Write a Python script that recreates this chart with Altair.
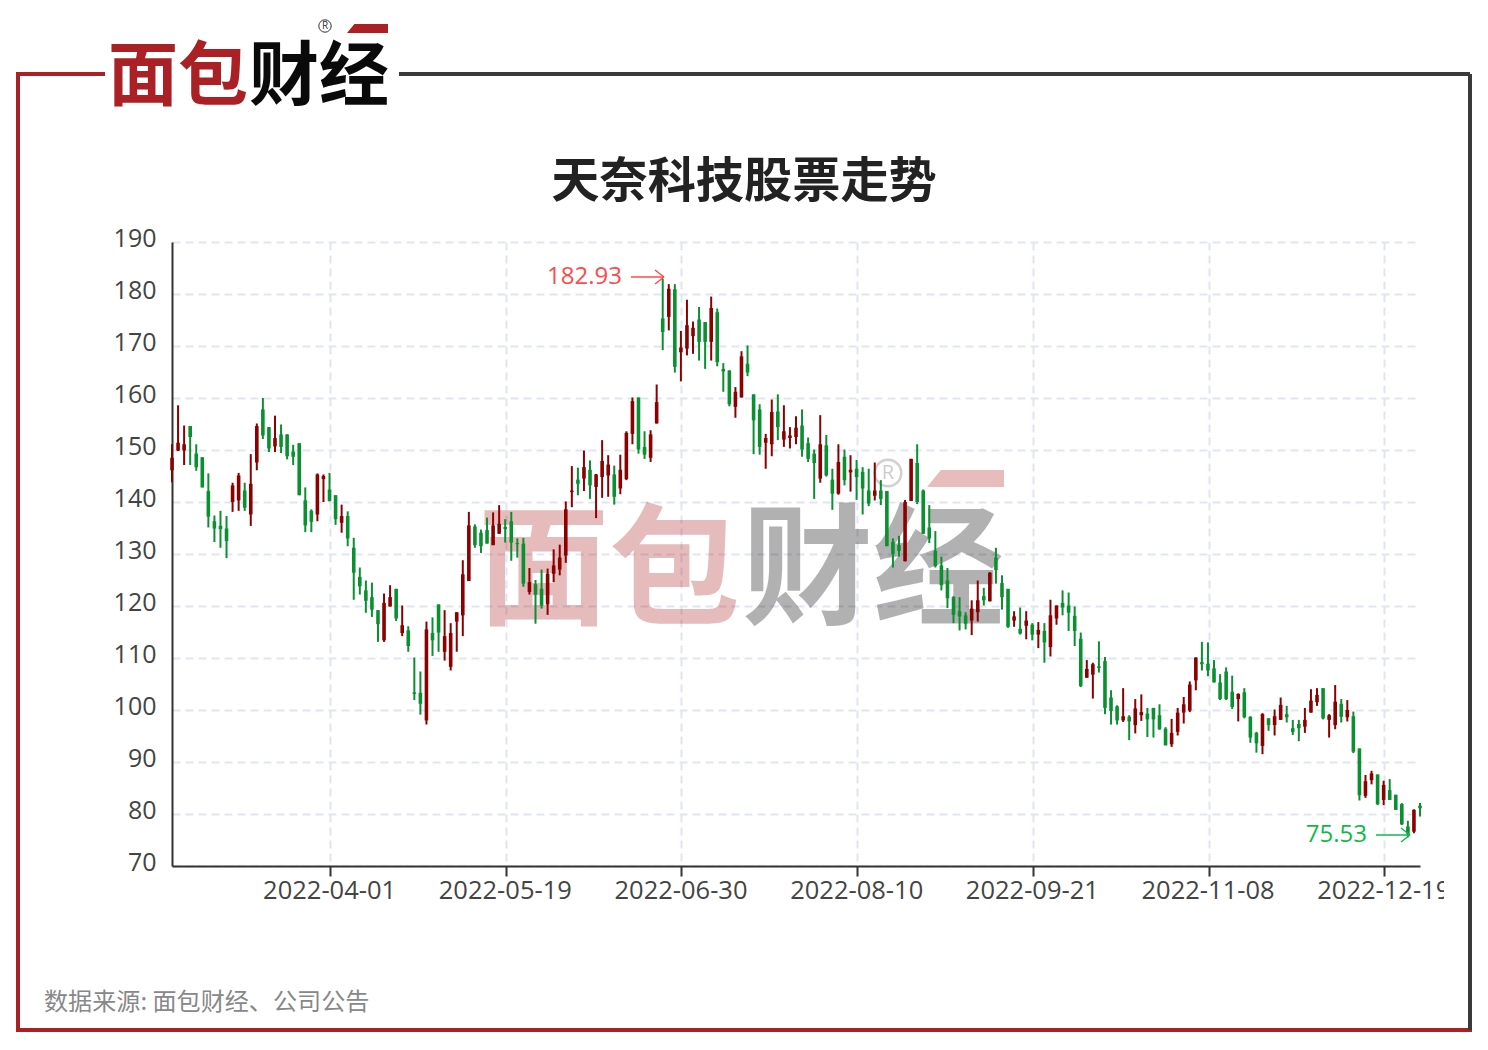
import altair as alt
import pandas as pd

high = [151.1,158.6,154.7,154.6,151.1,148.6,145.5,137.4,138.3,137.3,
143.7,145.6,143.7,149.2,155.1,160.0,154.4,156.6,154.9,153.0,
151.0,151.3,142.8,138.6,145.5,145.3,145.6,141.3,139.5,138.2,
133.1,127.4,124.9,124.5,119.2,122.4,124.0,123.3,120.1,116.1,
110.1,107.4,117.0,117.8,120.3,119.2,116.7,118.8,128.8,138.1,
135.7,134.7,137.0,138.0,139.4,136.7,138.1,133.0,133.1,127.3,
125.0,127.0,127.2,130.9,131.8,140.1,146.9,146.6,149.9,148.0,
145.4,151.9,149.0,147.0,149.1,153.6,160.1,160.1,153.6,153.8,
162.6,182.93,181.9,181.9,172.9,178.9,174.7,177.5,174.6,179.5,
177.2,166.7,165.3,162.1,169.0,170.1,160.7,158.8,153.1,159.7,
160.7,158.6,154.4,156.5,157.8,152.4,150.1,156.7,152.9,146.4,
151.1,150.1,149.0,148.1,146.7,146.4,147.6,144.2,142.1,133.0,
133.5,140.4,148.3,151.1,142.4,139.4,134.4,129.5,127.3,121.9,
121.7,118.8,121.1,124.9,123.5,126.5,131.2,125.9,123.3,119.0,
119.7,119.0,116.7,116.9,116.7,121.2,120.1,123.0,122.6,119.9,
114.9,109.6,109.1,113.2,110.2,103.8,100.9,104.2,99.0,102.1,
103.0,100.4,100.4,101.1,96.7,98.3,100.4,102.5,105.5,110.1,
113.1,113.0,109.6,106.9,108.2,106.6,103.2,104.2,98.8,95.8,
99.4,98.4,100.1,102.4,100.8,98.1,98.1,100.4,104.0,104.2,
104.2,99.2,104.8,102.1,101.9,99.7,92.6,87.5,88.3,87.6,
86.4,86.7,83.7,82.1,78.7,80.9,82.1]

low = [143.8,149.8,147.1,147.1,146.0,142.8,135.1,132.3,131.2,129.2,
138.1,138.3,138.3,135.4,146.1,152.1,149.6,149.6,149.4,148.2,
147.1,141.3,134.2,134.2,136.3,140.0,140.1,135.6,134.1,131.5,
121.2,122.2,118.7,117.9,113.1,113.1,119.9,117.1,114.2,111.2,
101.9,99.1,97.2,110.4,111.2,109.5,107.6,111.2,114.2,124.8,
131.2,130.2,132.0,131.7,133.9,132.2,128.7,129.3,123.7,122.2,
116.6,119.5,118.3,124.6,125.9,128.3,139.0,141.3,142.1,140.6,
136.9,140.8,141.0,139.5,141.5,144.2,151.1,149.3,148.3,147.7,
155.1,169.2,173.0,164.9,163.2,168.2,168.5,167.2,165.6,167.2,
166.1,161.2,158.4,156.2,160.1,164.2,149.2,149.1,146.4,148.8,
151.9,150.6,150.3,151.1,148.7,147.7,140.6,143.7,144.9,138.5,
141.4,143.2,142.0,140.4,137.6,139.2,140.3,139.4,131.5,127.4,
129.5,128.6,140.2,139.6,133.9,132.1,127.4,123.0,119.6,116.7,
115.3,115.5,114.4,117.0,120.1,120.9,124.3,119.3,115.8,116.0,
114.5,113.6,113.4,111.9,109.1,110.3,116.4,118.2,115.2,112.3,
104.4,106.2,102.2,107.2,99.2,97.2,97.2,97.7,94.2,95.5,
97.9,94.8,94.7,96.2,93.2,92.9,95.1,97.4,99.6,103.8,
107.6,106.5,105.3,101.9,101.9,100.2,97.8,98.4,93.7,91.8,
91.5,96.0,95.1,98.1,97.6,95.2,94.0,95.6,99.5,100.8,
98.2,94.7,96.3,97.6,97.8,91.7,82.6,83.1,85.7,81.7,
81.7,82.7,80.8,77.9,75.53,76.3,79.5]

body_top = [148.5,151.4,151.1,154.6,149.3,148.6,142.1,136.3,135.4,134.9,
143.2,145.1,142.2,143.5,154.6,157.8,154.4,152.3,153.0,153.0,
149.7,151.3,140.3,138.3,145.3,145.0,142.4,141.3,137.3,137.3,
131.2,125.6,123.0,121.7,119.2,120.6,121.7,123.3,116.3,115.3,
103.4,103.3,115.5,114.8,120.3,114.2,114.8,118.8,126.1,135.5,
135.3,134.1,134.6,135.5,135.8,135.2,136.3,132.1,132.0,124.6,
124.2,123.3,126.2,127.8,129.3,138.6,142.2,144.3,146.7,146.2,
145.3,147.9,147.2,145.3,146.2,153.3,159.4,160.1,150.6,153.0,
159.2,175.3,181.0,180.9,169.7,174.0,173.5,175.1,174.6,177.3,
176.5,165.6,165.3,161.2,168.0,166.6,160.7,157.8,152.3,157.3,
157.4,153.6,152.8,154.3,154.7,151.3,149.3,151.1,150.9,144.3,
147.7,148.7,146.2,146.4,145.8,142.2,142.2,142.2,142.1,132.3,
131.7,140.0,148.3,147.5,142.2,135.1,130.6,127.8,124.9,121.7,
119.0,118.2,119.5,121.1,121.9,126.4,129.3,124.4,123.3,118.0,
115.6,117.2,116.4,115.4,115.2,118.2,120.1,120.6,120.1,118.1,
113.7,107.9,108.8,108.4,109.4,102.4,100.7,98.8,98.7,100.3,
99.6,99.3,100.4,99.0,96.4,95.6,99.5,101.1,104.9,110.1,
109.2,108.9,108.0,105.3,107.4,103.5,103.1,103.4,98.7,95.6,
99.2,98.4,98.8,101.0,99.2,96.5,97.3,98.1,101.8,102.9,
104.2,99.0,101.6,101.2,100.0,98.8,92.6,86.3,87.8,87.6,
85.6,84.6,83.7,81.9,77.6,80.8,81.6]

body_bottom = [146.1,149.9,149.9,152.5,146.7,142.8,137.2,134.9,134.8,132.5,
140.0,140.3,138.9,137.6,147.6,152.8,150.3,150.7,150.6,148.8,
148.7,141.3,135.5,136.2,137.6,144.4,140.2,136.7,136.0,133.0,
126.4,123.8,121.0,119.3,116.5,113.4,119.9,117.6,114.8,112.3,
103.1,101.2,98.0,113.4,114.9,111.2,108.3,117.0,118.2,124.8,
131.7,131.5,132.0,131.7,133.9,134.8,132.2,131.9,124.3,122.7,
122.2,120.1,120.3,126.2,127.0,129.7,141.9,143.5,144.5,143.2,
142.9,144.8,145.1,141.0,142.6,144.4,153.1,150.1,149.1,148.5,
155.1,172.7,175.6,166.0,168.8,169.5,171.9,170.8,170.8,170.8,
166.9,165.1,158.8,158.3,160.1,164.9,155.7,150.6,151.4,151.1,
154.4,152.0,152.3,152.5,150.1,148.3,147.5,144.5,145.1,141.6,
141.6,144.2,145.7,144.8,142.6,139.7,141.2,140.6,131.5,130.0,
130.6,128.6,140.2,140.0,133.9,133.0,127.7,124.0,121.5,118.3,
118.0,116.6,117.2,118.8,121.1,120.9,126.9,121.7,116.0,117.2,
114.7,116.2,114.5,114.5,113.0,112.1,117.6,119.7,118.7,115.2,
104.6,106.2,106.8,108.1,100.4,99.8,98.0,98.0,97.8,97.1,
99.0,98.2,98.2,96.3,93.2,93.4,95.8,99.5,99.9,105.7,
108.8,107.6,105.3,102.1,102.1,100.6,102.1,98.6,94.7,93.6,
93.1,97.1,97.1,98.1,98.6,95.8,96.5,96.8,99.5,101.5,
98.4,98.1,97.1,98.7,98.6,92.0,83.6,83.5,86.5,81.9,
82.7,82.7,80.8,78.0,76.2,76.6,81.1]

direction = ("RRRGGGGGGG" "RRGRRGGRGG" "GGGGRRGGRG" "GGGGGRRGRG" "GGRGGRRRRR"
             "GGGRRGGGGR" "GGRRRRRGRG" "RRRGRRRGGR" "RGRGRRRGGR" "GGGRRGGGRR"
             "GRRRGGGRGG" "RGRGGGRGGG" "GRRGGGGGGG" "GGRRGRGGGR" "GRGRGRRGGG"
             "GRRGGGGRGR" "RGGGGRRRRR" "GGGGGGRGGG" "RGRRGGGRRR" "GRRGRGGRRG"
             "RGGGGRG")

tick_index = [26, 55, 84, 113, 142, 171, 200]
tick_labels = ["2022-04-01", "2022-05-19", "2022-06-30", "2022-08-10",
               "2022-09-21", "2022-11-08", "2022-12-19"]
y_ticks = [70, 80, 90, 100, 110, 120, 130, 140, 150, 160, 170, 180, 190]

FONT = "Noto Sans CJK SC"
NUM = "Open Sans"
RED = "#ab2024"
DARK = "#3a3a3a"
UP = "#8b0000"
DOWN = "#0a9030"
GRID = "#e0e5f1"


def px(v):
    return v - 172


def py(v):
    return v - 242


one = pd.DataFrame({"k": [0]})


def text(s, X, Y, size, color, align="left", weight="normal", font=FONT, opacity=1.0, baseline="alphabetic"):
    return alt.Chart(pd.DataFrame({"t": [s]})).mark_text(
        align=align, baseline=baseline, fontSize=size, color=color,
        fontWeight=weight, font=font, opacity=opacity,
    ).encode(text="t:N", x=alt.value(px(X)), y=alt.value(py(Y)))


def seg(x1, y1, x2, y2, color, w, cap="butt"):
    return alt.Chart(one).mark_rule(color=color, strokeWidth=w, strokeCap=cap).encode(
        x=alt.value(px(x1)), x2=alt.value(px(x2)), y=alt.value(py(y1)), y2=alt.value(py(y2)))


def block(x1, y1, x2, y2, color, opacity=1.0):
    return alt.Chart(one).mark_rect(color=color, opacity=opacity).encode(
        x=alt.value(px(x1)), x2=alt.value(px(x2)), y=alt.value(py(y1)), y2=alt.value(py(y2)))


def slanted(cx, cy, width, color, opacity=1.0):
    path = "M-1,0.22 L-0.64,-0.22 L1,-0.22 L1,0.22 Z"
    return alt.Chart(one).mark_point(
        shape=path, filled=True, size=width * width, color=color, opacity=opacity, strokeWidth=0,
    ).encode(x=alt.value(px(cx)), y=alt.value(py(cy)))


def ring(cx, cy, diameter, color, width, opacity=1.0):
    return alt.Chart(one).mark_point(
        shape="circle", filled=False, size=diameter * diameter * 0.785, color=color,
        strokeWidth=width, opacity=opacity,
    ).encode(x=alt.value(px(cx)), y=alt.value(py(cy)))


table = pd.DataFrame({
    "i": list(range(len(high))),
    "high": high, "low": low, "top": body_top, "bottom": body_bottom,
    "dir": list(direction),
})

x_axis = alt.Axis(
    values=[t + 0.1 for t in tick_index],
    labelExpr="[" + ",".join("'%s'" % s for s in tick_labels) + "][round((datum.value-26.1)/29)]",
    grid=True, gridColor=GRID, gridWidth=2, gridDash=[8, 5],
    domainColor="#333333", domainWidth=2, tickColor="#333333", tickWidth=2, tickSize=10,
    labelFont=NUM, labelFontSize=25.5, labelColor="#444444", labelPadding=2,
    labelOverlap=False, labelFlush=False, labelBound=False, labelOffset=-1, title=None,
)
y_axis = alt.Axis(
    values=y_ticks, grid=True, gridColor=GRID, gridWidth=2, gridDash=[8, 5],
    domainColor="#333333", domainWidth=2, ticks=False,
    labelFont=NUM, labelFontSize=25, labelColor="#444444", labelPadding=16,
    labelOverlap=False, labelFlush=False, labelBound=False, labelOffset=-4, title=None,
)
x_enc = alt.X("i:Q", axis=x_axis, scale=alt.Scale(domain=[0, 206], nice=False, zero=False))
y_scale = alt.Scale(domain=[70, 190], nice=False, zero=False)
colors = alt.Color("dir:N", legend=None, scale=alt.Scale(domain=["R", "G"], range=[UP, DOWN]))

wicks = alt.Chart(table).mark_rule(strokeWidth=2).encode(
    x=x_enc, y=alt.Y("high:Q", axis=y_axis, scale=y_scale), y2="low:Q", color=colors)
bodies = alt.Chart(table).mark_rule(strokeWidth=3.6).encode(
    x=alt.X("i:Q"), y=alt.Y("top:Q"), y2="bottom:Q", color=colors)

layers = [
    # watermark
    text("面包", 478, 614, 131, RED, weight="bold", opacity=0.3),
    text("财经", 742, 614, 131, "#000000", weight="bold", opacity=0.3),
    slanted(965.5, 478.5, 77, RED, 0.3),
    ring(888, 473, 30, "#000000", 2.5, 0.18),
    text("R", 888, 473, 20, "#000000", align="center", opacity=0.2, baseline="middle", font=NUM),
    wicks, bodies,
    # extreme markers
    text("182.93", 622, 284, 24, "#ff4a4a", align="right", font=NUM),
    seg(631, 277, 664, 277, "#ff4a4a", 1.5),
    seg(655, 270, 664, 277, "#ff4a4a", 1.5),
    seg(655, 284, 664, 277, "#ff4a4a", 1.5),
    text("75.53", 1367, 842, 24, "#12b84a", align="right", font=NUM),
    seg(1376, 835, 1410, 835, "#12b84a", 1.5),
    seg(1401, 828, 1410, 835, "#12b84a", 1.5),
    seg(1401, 842, 1410, 835, "#12b84a", 1.5),
    # clipped last label
    block(1444, 874, 1466, 908, "#ffffff"),
    # frame
    seg(18, 74, 103, 74, RED, 4, "square"),
    seg(18, 74, 18, 1030, RED, 4, "square"),
    seg(18, 1030, 1470, 1030, RED, 4, "square"),
    seg(399, 74, 1470, 74, DARK, 4),
    seg(1470, 74, 1470, 1030, DARK, 4),
    # logo
    text("面包", 108, 100, 70, RED, weight="bold"),
    text("财经", 249, 100, 70, "#0a0a0a", weight="bold"),
    slanted(367.5, 28.5, 41, RED),
    ring(325, 26, 14, "#333333", 1),
    text("R", 325, 26, 10, "#333333", align="center", baseline="middle", font=NUM),
    # title and source
    text("天奈科技股票走势", 744, 197, 48.2, "#222222", align="center", weight="bold"),
    text("数据来源: 面包财经、公司公告", 44, 1010, 24.1, "#888888"),
]

chart = alt.layer(*layers).properties(
    width=1248, height=624,
    autosize=alt.AutoSizeParams(type="none"),
    padding={"left": 164, "top": 234, "right": 52, "bottom": 170},
    background="#ffffff",
).configure_view(stroke=None).resolve_scale(color="shared")

chart.save("out.html", embed_options={"renderer": "svg", "actions": False})
